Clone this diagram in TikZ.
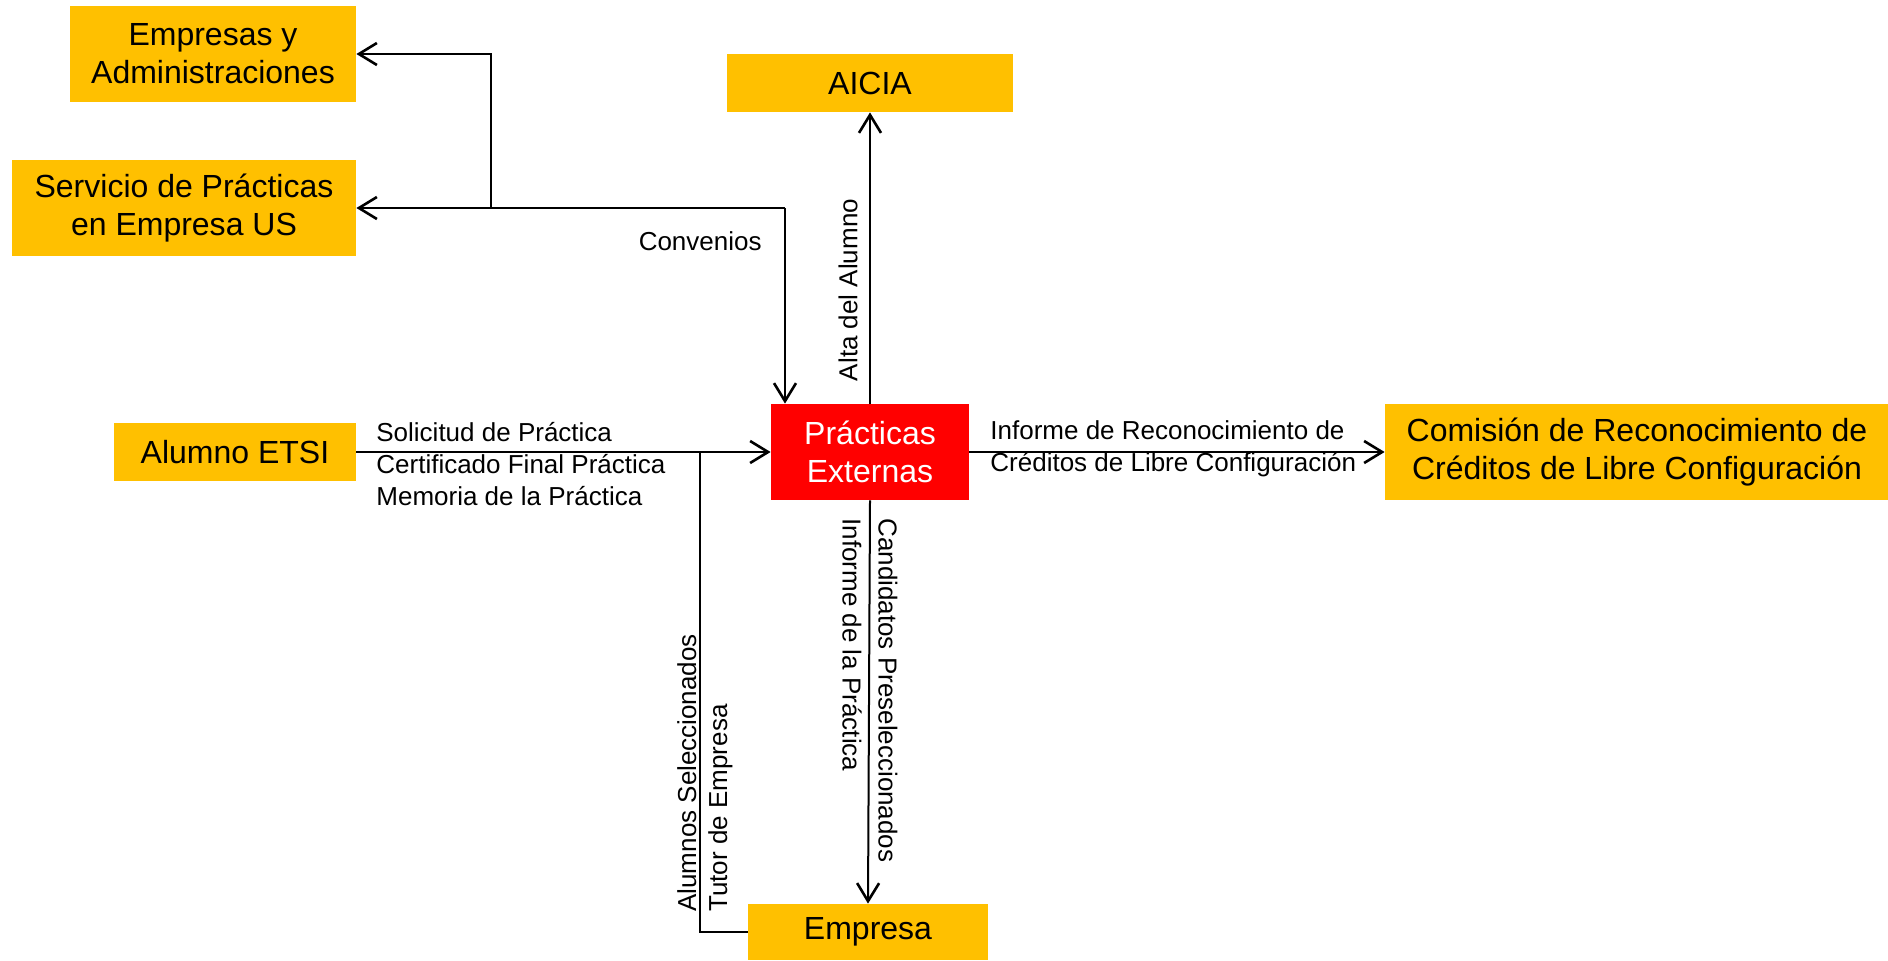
\documentclass[tikz,border=0pt]{standalone}
\usepackage{fontspec}
\setmainfont{Liberation Sans}
\usetikzlibrary{arrows.meta}
\definecolor{boxyellow}{HTML}{FFC000}
\definecolor{boxred}{HTML}{FF0000}

\begin{document}
\begin{tikzpicture}[x=0.5pt, y=-0.5pt,
    box/.style={fill=boxyellow, inner sep=0pt, align=center, font=\fontsize{16}{19}\selectfont},
    lbl/.style={inner sep=0pt, align=left, font=\fontsize{13}{16}\selectfont},
    flow/.style={line width=1pt, -{Straight Barb[length=9pt, width=11pt, line width=1.3pt]}}]
      \useasboundingbox (0, 0) rectangle (1888, 960);
      \node [box, minimum width=143pt, minimum height=48pt] (empadm) at (213, 54) {Empresas y\\Administraciones};
      \node [box, minimum width=172pt, minimum height=48pt] (servicio) at (184, 208) {Servicio de Prácticas\\en Empresa US};
      \node [box, minimum width=143pt, minimum height=29pt] (aicia) at (870, 83) {AICIA};
      \node [box, minimum width=121pt, minimum height=29pt] (alumno) at (235, 452) {Alumno ETSI};
      \node [box, fill=boxred, text=white, minimum width=99pt, minimum height=48pt] (practicas) at (870, 452) {Prácticas\\Externas};
      \node [box, minimum width=252pt, minimum height=48pt] (comision) at (1637, 452) {Comisión de Reconocimiento de\\Créditos de Libre Configuración};
      \node [box, minimum width=120pt, minimum height=28pt] (empresa) at (868, 932) {Empresa};
      % convenios
      \coordinate (conv) at (785, 208);
      \coordinate (split) at (491, 208);
      \draw [flow] (conv) -- (servicio.east);
      \draw [flow] (split) |- (empadm.east);
      \draw [flow] (conv) -- (conv |- practicas.north);
      \node [lbl, anchor=east] (convlbl) at (762, 241) {Convenios};
      % aicia
      \draw [flow] (practicas.north) -- (aicia.south);
      \node [lbl, rotate=90] (altalbl) at (848, 290) {Alta del Alumno};
      % alumno
      \draw [flow] (alumno.east) -- (practicas.west);
      \node [lbl, anchor=west] (alumnolbl) at (376, 464) {Solicitud de Práctica\\Certificado Final Práctica\\Memoria de la Práctica};
      % empresa
      \coordinate (back) at (700, 452);
      \draw [line width=1pt] (empresa.west) -| (back);
      \node [lbl, rotate=90, anchor=west, font=\fontsize{13}{15.5}\selectfont] (backlbl) at (705, 912) {Alumnos Seleccionados\\Tutor de Empresa};
      \draw [flow] (practicas.south) -- (empresa.north);
      \node [lbl, rotate=-90, anchor=west, font=\fontsize{13}{18}\selectfont] (empresalbl) at (870, 518) {Candidatos Preseleccionados\\Informe de la Práctica};
      % comision
      \draw [flow] (practicas.east) -- (comision.west);
      \node [lbl, anchor=west] (comisionlbl) at (990, 449) {Informe de Reconocimiento de\\Créditos de Libre Configuración};
    \end{tikzpicture}
\end{document}
